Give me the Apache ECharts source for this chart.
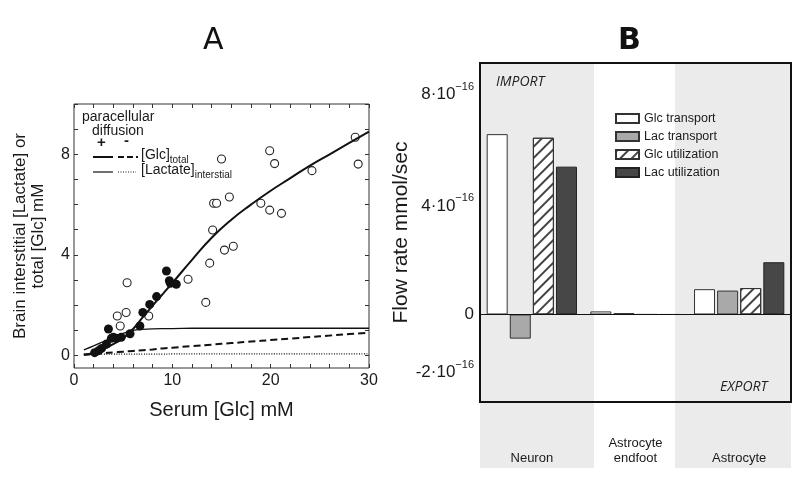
<!DOCTYPE html>
<html><head><meta charset="utf-8">
<script src="https://cdn.jsdelivr.net/npm/echarts@6/dist/echarts.min.js"></script>
<style>html,body{margin:0;padding:0;background:#fff}#c{width:800px;height:478px}</style>
</head><body><div id="c"></div>
<script>
// ---------- Panel A data ----------
const openX = [28.6, 28.9, 19.9, 20.4, 15.0, 24.2, 14.2, 14.5, 15.8, 19.0, 19.9, 21.1, 14.1, 13.8, 15.3, 16.2, 11.6, 13.4, 5.4, 5.3, 4.4, 4.7, 7.6];
const openY = [8.68, 7.61, 8.14, 7.63, 7.81, 7.35, 6.05, 6.05, 6.30, 6.05, 5.78, 5.65, 4.99, 3.67, 4.19, 4.34, 3.03, 2.11, 2.89, 1.71, 1.57, 1.17, 1.57];
const filledX = [9.4, 9.7, 9.8, 10.4, 8.4, 7.7, 7.0, 6.7, 5.7, 3.5, 4.0, 4.3, 4.8, 3.8, 3.3, 2.8, 2.5, 2.1];
const filledY = [3.36, 2.97, 2.87, 2.83, 2.34, 2.03, 1.71, 1.17, 0.86, 1.05, 0.72, 0.68, 0.72, 0.68, 0.45, 0.28, 0.19, 0.11];
const curveX = [1, 2, 3, 4, 5, 6, 7, 8, 9, 10, 12, 14, 16, 18, 20, 22, 24, 26, 28, 30];
const glcPlusY = [0.03, 0.10, 0.25, 0.45, 0.68, 1.05, 1.52, 1.98, 2.43, 2.88, 3.80, 4.68, 5.40, 6.00, 6.55, 7.05, 7.55, 8.00, 8.45, 8.90];
const lacPlusY = [0.22, 0.38, 0.55, 0.72, 0.88, 1.00, 1.04, 1.06, 1.07, 1.07, 1.08, 1.08, 1.08, 1.08, 1.08, 1.08, 1.08, 1.08, 1.08, 1.08];
const glcMinusY = [0.03, 0.06, 0.09, 0.12, 0.15, 0.18, 0.21, 0.24, 0.28, 0.31, 0.37, 0.43, 0.49, 0.55, 0.61, 0.67, 0.73, 0.79, 0.85, 0.90];
const lacMinusY = [0.05, 0.05, 0.05, 0.05, 0.05, 0.05, 0.05, 0.05, 0.05, 0.06, 0.06, 0.06, 0.06, 0.06, 0.06, 0.06, 0.06, 0.06, 0.06, 0.06];
const aXTicks = [0, 10, 20, 30];
const aYTicks = [0, 4, 8];

// ---------- Panel B data (units of 1e-16 mmol/sec) ----------
const cells = ['Neuron', 'Astrocyte\nendfoot', 'Astrocyte'];
const glcTransport = [6.49, 0.11, 0.91];
const lacTransport = [-0.87, 0.05, 0.86];
const glcUtilization = [6.36, 0, 0.95];
const lacUtilization = [5.32, 0, 1.88];
const bYLabels = [-2, 0, 4, 8];
const bYTicks = [-2, 0, 2, 4, 6, 8];

const pairs = (xs, ys) => xs.map((x, i) => [x, ys[i]]);
const FONT = 'Liberation Sans';
const INK = '#1a1a1a';

const chart = echarts.init(document.getElementById('c'), null, {renderer: 'canvas'});

const noLine = {show: false, onZero: false};
const hiddenAxis = {axisLabel: {show: false}, splitLine: {show: false}, axisLine: noLine};
const tick = {inside: true, length: 4, lineStyle: {color: '#333'}};

const option = {
  animation: false,
  textStyle: {fontFamily: FONT},
  grid: [
    {left: 74, top: 104, right: 431, bottom: 110, show: true, borderColor: '#333', borderWidth: 1, backgroundColor: 'transparent'},
    {left: 480, top: 63, right: 9, bottom: 76, show: true, borderColor: '#111', borderWidth: 2, backgroundColor: 'transparent'}
  ],
  xAxis: [
    {gridIndex: 0, type: 'value', min: 0, max: 30, interval: 2,
     name: 'Serum [Glc] mM', nameLocation: 'middle', nameGap: 32,
     nameTextStyle: {fontSize: 20, color: INK, verticalAlign: 'top'},
     axisLine: noLine, splitLine: {show: false}, axisTick: tick,
     axisLabel: {fontSize: 16, color: INK, margin: 5, formatter: v => aXTicks.includes(v) ? String(v) : ''}},
    {gridIndex: 0, type: 'value', min: 0, max: 30, interval: 2, position: 'top', ...hiddenAxis, axisTick: tick},
    {gridIndex: 1, type: 'category', data: cells, position: 'bottom',
     axisLine: noLine, splitLine: {show: false},
     axisTick: {...tick, alignWithLabel: true},
     axisLabel: {fontSize: 13, color: INK, margin: 64, verticalAlign: 'bottom', lineHeight: 15}},
    {gridIndex: 1, type: 'category', data: cells, position: 'top', ...hiddenAxis,
     axisTick: {...tick, alignWithLabel: true}}
  ],
  yAxis: [
    {gridIndex: 0, type: 'value', min: -0.5, max: 10,
     name: 'Brain interstitial [Lactate] or\ntotal [Glc] mM', nameLocation: 'middle', nameGap: 27,
     nameTextStyle: {fontSize: 17, color: INK, lineHeight: 18, verticalAlign: 'bottom'},
     axisLine: noLine, splitLine: {show: false},
     axisTick: {...tick, customValues: [0,1,2,3,4,5,6,7,8,9,10]},
     axisLabel: {fontSize: 16, color: INK, margin: 4, customValues: aYTicks}},
    {gridIndex: 0, type: 'value', min: -0.5, max: 10, position: 'right', ...hiddenAxis,
     axisTick: {...tick, customValues: [0,1,2,3,4,5,6,7,8,9,10]}},
    {gridIndex: 1, type: 'value', min: -3.15, max: 9.05,
     name: 'Flow rate mmol/sec', nameLocation: 'middle', nameGap: 54,
     nameTextStyle: {fontSize: 21, color: INK, verticalAlign: 'bottom'},
     axisLine: noLine, splitLine: {show: false},
     axisTick: {...tick, customValues: bYTicks},
     axisLabel: {fontSize: 17, color: INK, margin: 6, customValues: bYLabels,
       formatter: v => v === 0 ? '0' : '{b|' + v + '·10}{s|−16}',
       rich: {b: {fontSize: 17, color: INK, lineHeight: 22, verticalAlign: 'bottom'}, s: {fontSize: 11, color: INK, lineHeight: 22, verticalAlign: 'top'}}}},
    {gridIndex: 1, type: 'value', min: -3.15, max: 9.05, position: 'right', ...hiddenAxis,
     axisTick: {...tick, customValues: bYTicks}}
  ],
  legend: {
    data: ['Glc transport', 'Lac transport', 'Glc utilization', 'Lac utilization'],
    orient: 'vertical', left: 610, top: 107, itemWidth: 23, itemHeight: 9, itemGap: 5, icon: 'rect',
    textStyle: {fontSize: 12.5, color: INK, fontFamily: FONT}, selectedMode: false
  },
  graphic: [
    {type: 'rect', z: -10, shape: {x: 480, y: 63, width: 114, height: 405}, style: {fill: '#ebebeb'}},
    {type: 'rect', z: -10, shape: {x: 675, y: 63, width: 116, height: 405}, style: {fill: '#ebebeb'}},
    {type: 'text', left: 203, top: 26, style: {text: 'A', fontSize: 30, fill: '#111', fontFamily: 'DejaVu Sans'}},
    {type: 'text', left: 618, top: 26, style: {text: 'B', fontSize: 30, fill: '#111', fontFamily: 'DejaVu Sans', fontWeight: 'bold'}},
    {type: 'text', left: 496, top: 75, style: {text: 'IMPORT', fontSize: 14, fontStyle: 'italic', fill: '#222', fontFamily: 'Open Sans'}},
    {type: 'text', left: 720, top: 380, style: {text: 'EXPORT', fontSize: 14, fontStyle: 'italic', fill: '#222', fontFamily: 'Open Sans'}},
    // panel A legend
    {type: 'text', left: 82, top: 110, style: {text: 'paracellular', fontSize: 14, fill: INK, fontFamily: FONT}},
    {type: 'text', left: 92, top: 124, style: {text: 'diffusion', fontSize: 14, fill: INK, fontFamily: FONT}},
    {type: 'text', left: 97, top: 135, style: {text: '+', fontSize: 15, fontWeight: 'bold', fill: INK, fontFamily: FONT}},
    {type: 'text', left: 124, top: 133, style: {text: '-', fontSize: 15, fontWeight: 'bold', fill: INK, fontFamily: FONT}},
    {type: 'line', shape: {x1: 93, y1: 157, x2: 113, y2: 157}, style: {stroke: '#111', lineWidth: 2}},
    {type: 'line', shape: {x1: 118, y1: 157, x2: 138, y2: 157}, style: {stroke: '#111', lineWidth: 2, lineDash: [6, 3]}},
    {type: 'text', left: 141, top: 148, style: {text: '[Glc]{s|total}', fontSize: 14, fill: INK, fontFamily: FONT,
      rich: {s: {fontSize: 10, verticalAlign: 'bottom', lineHeight: 20, fill: INK}}}},
    {type: 'line', shape: {x1: 93, y1: 172, x2: 113, y2: 172}, style: {stroke: '#111', lineWidth: 1.2}},
    {type: 'line', shape: {x1: 118, y1: 172, x2: 136, y2: 172}, style: {stroke: '#111', lineWidth: 1, lineDash: [1, 1.5]}},
    {type: 'text', left: 141, top: 163, style: {text: '[Lactate]{s|interstial}', fontSize: 14, fill: INK, fontFamily: FONT,
      rich: {s: {fontSize: 10, verticalAlign: 'bottom', lineHeight: 20, fill: INK}}}}
  ],
  series: [
    {type: 'line', xAxisIndex: 0, yAxisIndex: 0, data: pairs(curveX, glcMinusY), showSymbol: false, smooth: true,
     lineStyle: {color: '#111', width: 2, type: [7, 4]}, z: 3},
    {type: 'line', xAxisIndex: 0, yAxisIndex: 0, data: pairs(curveX, lacMinusY), showSymbol: false, smooth: true,
     lineStyle: {color: '#111', width: 1.2, type: [1, 1.5]}, z: 3},
    {type: 'scatter', xAxisIndex: 0, yAxisIndex: 0, data: pairs(openX, openY), symbol: 'circle', symbolSize: 8,
     itemStyle: {color: '#fff', borderColor: '#222', borderWidth: 1.1, opacity: 1}, z: 4},
    {type: 'scatter', xAxisIndex: 0, yAxisIndex: 0, data: pairs(filledX, filledY), symbol: 'circle', symbolSize: 9,
     itemStyle: {color: '#111', opacity: 1}, z: 4},
    {type: 'line', xAxisIndex: 0, yAxisIndex: 0, data: pairs(curveX, lacPlusY), showSymbol: false, smooth: 0.3,
     lineStyle: {color: '#111', width: 1.3}, z: 5},
    {type: 'line', xAxisIndex: 0, yAxisIndex: 0, data: pairs(curveX, glcPlusY), showSymbol: false, smooth: true,
     lineStyle: {color: '#111', width: 2}, z: 5},

    {name: 'Glc transport', type: 'bar', xAxisIndex: 2, yAxisIndex: 2, data: glcTransport, barWidth: 21, barGap: '10%',
     itemStyle: {color: '#fff', borderColor: '#333', borderWidth: 1},
     markLine: {silent: true, symbol: 'none', label: {show: false}, lineStyle: {color: '#111', width: 1, type: 'solid'}, data: [{yAxis: 0}]}},
    {name: 'Lac transport', type: 'bar', xAxisIndex: 2, yAxisIndex: 2, data: lacTransport, barWidth: 21, barGap: '10%',
     itemStyle: {color: '#a9a9a9', borderColor: '#333', borderWidth: 1}},
    {name: 'Glc utilization', type: 'bar', xAxisIndex: 2, yAxisIndex: 2, data: glcUtilization, barWidth: 21, barGap: '10%',
     itemStyle: {color: '#fff', borderColor: '#333', borderWidth: 1,
       decal: {symbol: 'rect', symbolSize: 1, dashArrayX: [1, 0], dashArrayY: [1.2, 5.5], rotation: -Math.PI / 4, color: '#444'}}},
    {name: 'Lac utilization', type: 'bar', xAxisIndex: 2, yAxisIndex: 2, data: lacUtilization, barWidth: 21, barGap: '10%',
     itemStyle: {color: '#474747', borderColor: '#222', borderWidth: 1}}
  ]
};
chart.setOption(option);
</script>
</body></html>
